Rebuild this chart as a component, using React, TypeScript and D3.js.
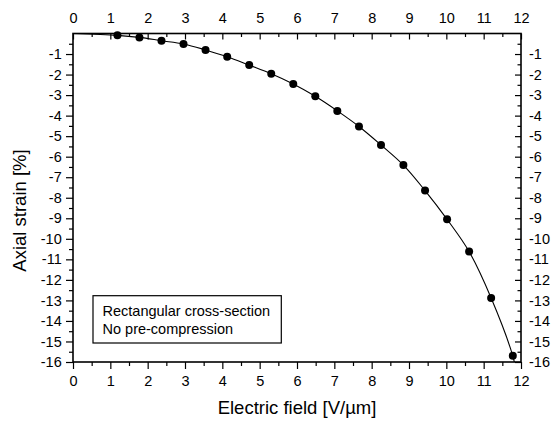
import * as d3 from "d3";
import React, { useEffect, useRef } from "react";

// measured points (electric field vs axial strain)
const fieldValues = [1.19, 1.78, 2.37, 2.96, 3.55, 4.13, 4.72, 5.31, 5.9, 6.49, 7.08, 7.66, 8.25, 8.85, 9.43, 10.02, 10.61, 11.2, 11.78];
const strainValues = [-0.09, -0.19, -0.35, -0.51, -0.8, -1.13, -1.54, -1.96, -2.46, -3.06, -3.77, -4.53, -5.43, -6.41, -7.65, -9.05, -10.62, -12.88, -15.7];

// the drawn curve starts at the origin and runs off the bottom of the frame
const curveStart = [0, 0];
const curveEnd = [11.84, -16.2];

const xTicks = [0, 1, 2, 3, 4, 5, 6, 7, 8, 9, 10, 11, 12];
const yTicks = [-1, -2, -3, -4, -5, -6, -7, -8, -9, -10, -11, -12, -13, -14, -15, -16];

const legendLines = ["Rectangular cross-section", "No pre-compression"];

function Chart() {
  const ref = useRef(null);

  useEffect(() => {
    if (!ref.current) return;
    const width = 553;
    const height = 423;
    const left = 73;
    const right = 521;
    const top = 33.5;
    const bottom = 362;
    const font = "'Liberation Sans', Arial, sans-serif";

    const svg = d3.select(ref.current);
    svg.selectChildren().remove();
    svg.attr("width", width).attr("height", height).attr("font-family", font);

    const x = d3.scaleLinear().domain([0, 12]).range([left, right]);
    const y = d3.scaleLinear().domain([-16, 0]).range([bottom, top]);

    const xMinor = d3.range(0.5, 12, 1);
    const yMinor = d3.range(-0.5, -16, -1);

    const styleAxis = (g) => {
      g.select(".domain").remove();
      g.selectAll("line").attr("stroke", "#000").attr("stroke-width", 1.2);
      g.selectAll("text").attr("fill", "#000").attr("font-size", 14.5).attr("font-family", font);
    };

    // bottom (outward ticks)
    svg.append("g").attr("transform", `translate(0,${bottom})`)
      .call(d3.axisBottom(x).tickValues(xTicks).tickSize(7).tickPadding(6.5).tickFormat((d) => String(d)))
      .call(styleAxis);
    svg.append("g").attr("transform", `translate(0,${bottom})`)
      .call(d3.axisBottom(x).tickValues(xMinor).tickSize(4).tickFormat(() => ""))
      .call(styleAxis);

    // top (inward ticks)
    svg.append("g").attr("transform", `translate(0,${top})`)
      .call(d3.axisTop(x).tickValues(xTicks).tickSize(-6).tickPadding(11).tickFormat((d) => String(d)))
      .call(styleAxis);
    svg.append("g").attr("transform", `translate(0,${top})`)
      .call(d3.axisTop(x).tickValues(xMinor).tickSize(-3.5).tickFormat(() => ""))
      .call(styleAxis);

    // left (outward ticks)
    svg.append("g").attr("transform", `translate(${left},0)`)
      .call(d3.axisLeft(y).tickValues(yTicks).tickSize(7).tickPadding(4.3).tickFormat((d) => String(d)))
      .call(styleAxis);
    svg.append("g").attr("transform", `translate(${left},0)`)
      .call(d3.axisLeft(y).tickValues(yMinor).tickSize(4).tickFormat(() => ""))
      .call(styleAxis);

    // right (inward ticks)
    svg.append("g").attr("transform", `translate(${right},0)`)
      .call(d3.axisRight(y).tickValues(yTicks).tickSize(-6).tickPadding(8).tickFormat((d) => String(d)))
      .call(styleAxis);
    svg.append("g").attr("transform", `translate(${right},0)`)
      .call(d3.axisRight(y).tickValues(yMinor).tickSize(-3.5).tickFormat(() => ""))
      .call(styleAxis);

    // frame
    svg.append("rect")
      .attr("x", left).attr("y", top)
      .attr("width", right - left).attr("height", bottom - top)
      .attr("fill", "none").attr("stroke", "#000").attr("stroke-width", 1.6);

    svg.append("defs").append("clipPath").attr("id", "plot-clip")
      .append("rect").attr("x", left).attr("y", top)
      .attr("width", right - left).attr("height", bottom - top);

    const pts = fieldValues.map((v, i) => [v, strainValues[i]]);
    const curvePts = [curveStart, ...pts, curveEnd];

    const line = d3.line()
      .x((d) => x(d[0]))
      .y((d) => y(d[1]))
      .curve(d3.curveCatmullRom.alpha(0.5));

    svg.append("path")
      .attr("clip-path", "url(#plot-clip)")
      .attr("d", line(curvePts))
      .attr("fill", "none")
      .attr("stroke", "#000")
      .attr("stroke-width", 1.1);

    svg.append("g")
      .selectAll("circle")
      .data(pts)
      .join("circle")
      .attr("cx", (d) => x(d[0]))
      .attr("cy", (d) => y(d[1]))
      .attr("r", 4)
      .attr("fill", "#000");

    // legend box
    const lg = svg.append("g");
    lg.append("rect")
      .attr("x", 93).attr("y", 295.7)
      .attr("width", 188.3).attr("height", 47.3)
      .attr("fill", "#fff").attr("stroke", "#000").attr("stroke-width", 1.2);
    lg.selectAll("text")
      .data(legendLines)
      .join("text")
      .attr("x", 102.5)
      .attr("y", (d, i) => 315.5 + i * 18.3)
      .attr("font-size", 14.5)
      .text((d) => d);

    // axis titles
    svg.append("text")
      .attr("x", (left + right) / 2)
      .attr("y", 414)
      .attr("text-anchor", "middle")
      .attr("font-size", 18.5)
      .text("Electric field [V/µm]");

    svg.append("text")
      .attr("transform", `translate(26,210.5) rotate(-90)`)
      .attr("text-anchor", "middle")
      .attr("font-size", 18.5)
      .text("Axial strain [%]");
  }, []);

  return <svg ref={ref}></svg>;
}

export default function App() {
  return (
    <div style={{ position: "absolute", left: 0, top: 0, background: "#fff" }}>
      <Chart />
    </div>
  );
}
